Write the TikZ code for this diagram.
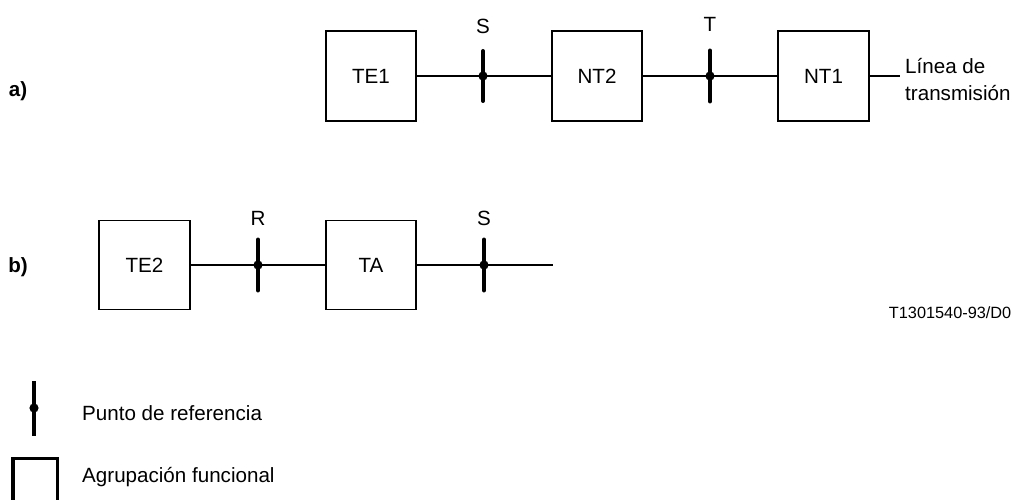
\documentclass[tikz,border=0pt]{standalone}
\usepackage{fontspec}
\setmainfont{Liberation Sans}
\newcommand\mainfs{\fontsize{20.6}{26.7}\selectfont}
\newcommand\smallfs{\fontsize{16.3}{20}\selectfont}
\begin{document}
\begin{tikzpicture}[x=1pt,y=-1pt,
  box/.style={draw,line width=1.2pt,minimum width=90pt,minimum height=90pt,inner sep=0pt,font=\mainfs},
  wire/.style={line width=1.2pt},
  refbar/.style={line width=4pt,line cap=round},
  refdot/.style={radius=4.6pt},
  lbl/.style={inner sep=0pt,font=\mainfs},
  partlbl/.style={inner sep=0pt,font=\mainfs\bfseries},
]
\useasboundingbox (0,0) rectangle (1012,500);
\clip (0,0) rectangle (1012,500);

% row a
\node[partlbl] (pa) at (18,91) {a)};
\node[box] (TE1) at (371,76) {TE1};
\node[box] (NT2) at (597,76) {NT2};
\node[box,minimum width=91pt] (NT1) at (823.5,76) {NT1};
\coordinate (pS1) at (483,76);
\coordinate (pT) at (710,76);
\coordinate (lineEnd) at (900,76);
\draw[wire] (TE1.east) -- (pS1) -- (NT2.west);
\draw[wire] (NT2.east) -- (pT) -- (NT1.west);
\draw[wire] (NT1.east) -- (lineEnd);
\draw[refbar] ([yshift=-25pt]pS1) -- ([yshift=25pt]pS1);
\fill[refdot] (pS1) circle;
\draw[refbar] ([yshift=-25.5pt]pT) -- ([yshift=25.5pt]pT);
\fill[refdot] (pT) circle;
\node[lbl] (labS1) at (483,26) {S};
\node[lbl] (labT) at (710,24) {T};
\node[lbl,anchor=base west] (linea1) at (905,74) {Línea de};
\node[lbl,anchor=base west] (linea2) at (905,100.7) {transmisión};

% row b
\node[partlbl] (pb) at (18,267.5) {b)};
\node[box,minimum width=91pt,minimum height=89pt] (TE2) at (144.5,265) {TE2};
\node[box,minimum height=89pt] (TA) at (371,265) {TA};
\coordinate (pR) at (258,265);
\coordinate (pS2) at (484,265);
\coordinate (lineEndB) at (553,265);
\draw[wire] (TE2.east) -- (pR) -- (TA.west);
\draw[wire] (TA.east) -- (pS2) -- (lineEndB);
\draw[refbar] ([yshift=-25.5pt]pR) -- ([yshift=25.5pt]pR);
\fill[refdot] (pR) circle;
\draw[refbar] ([yshift=-25.5pt]pS2) -- ([yshift=25.5pt]pS2);
\fill[refdot] (pS2) circle;
\node[lbl] (labR) at (258,218) {R};
\node[lbl] (labS2) at (484,218) {S};

% figure code
\node[inner sep=0pt,font=\smallfs,anchor=base east] (code) at (1011.5,318) {T1301540-93/D0};

% legend
\coordinate (legDot) at (34,408);
\draw[line width=3.3pt] (34,381) -- (legDot) -- (34,436);
\fill[refdot] (legDot) circle;
\node[lbl,anchor=base west] (legRef) at (82,420) {Punto de referencia};
\draw[line width=3.5pt] (12.75,515) -- (12.75,458.5) -- (57.5,458.5) -- (57.5,515);
\node[lbl,anchor=base west] (legGrp) at (82,482) {Agrupación funcional};
\end{tikzpicture}
\end{document}
